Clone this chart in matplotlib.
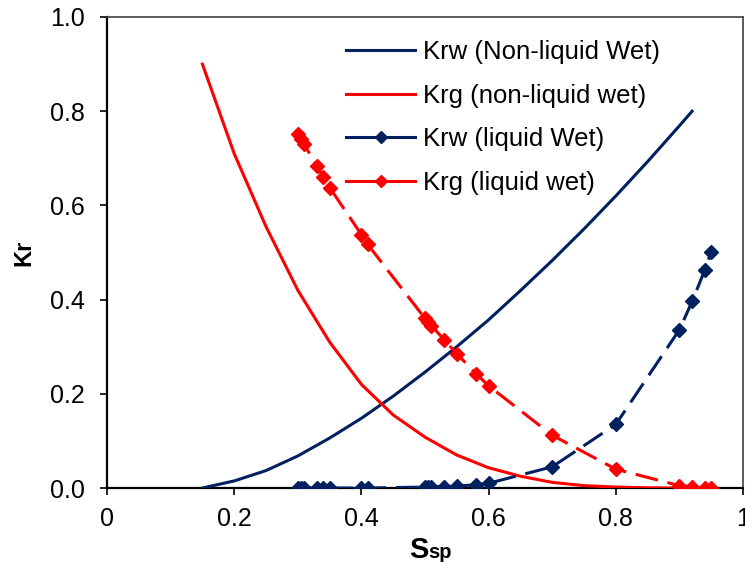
import matplotlib
matplotlib.use("Agg")
import matplotlib.pyplot as plt
from matplotlib.lines import Line2D

plt.rcParams["font.family"] = ["Liberation Sans", "DejaVu Sans"]

NAVY = "#002060"
RED = "#FF0000"

# Non-liquid wet curves
s_nl = [0.15, 0.20, 0.25, 0.30, 0.35, 0.40, 0.45, 0.50, 0.55, 0.60, 0.65,
        0.70, 0.75, 0.80, 0.85, 0.90, 0.92]
krw_nl = [0.0, 0.015, 0.037, 0.068, 0.106, 0.148, 0.195, 0.246, 0.300, 0.357,
          0.419, 0.483, 0.550, 0.620, 0.693, 0.769, 0.800]
s_nlg = [0.15, 0.20, 0.25, 0.30, 0.35, 0.40, 0.45, 0.50, 0.55, 0.60, 0.65,
         0.70, 0.75, 0.80, 0.85, 0.90, 0.95]
krg_nl = [0.90, 0.71, 0.555, 0.42, 0.31, 0.22, 0.155, 0.108, 0.07, 0.043,
          0.025, 0.012, 0.005, 0.002, 0.0005, 0.0, 0.0]

# Liquid wet curves
s_lw = [0.30, 0.305, 0.31, 0.33, 0.34, 0.35, 0.40, 0.41, 0.50, 0.505, 0.51,
        0.53, 0.55, 0.58, 0.60, 0.70, 0.80, 0.90, 0.92, 0.94, 0.95]
krw_lw = [0.0, 0.0, 0.0, 0.0, 0.0, 0.0, 0.0, 0.0, 0.002, 0.002, 0.003,
          0.003, 0.004, 0.007, 0.010, 0.045, 0.135, 0.336, 0.396, 0.463, 0.502]
krg_lw = [0.752, 0.740, 0.730, 0.683, 0.660, 0.638, 0.538, 0.517, 0.360,
          0.352, 0.345, 0.315, 0.285, 0.243, 0.217, 0.112, 0.040, 0.005,
          0.003, 0.001, 0.0]

labels = ["Krw (Non-liquid Wet)", "Krg (non-liquid wet)",
          "Krw (liquid Wet)", "Krg (liquid wet)"]
x_ticks = [0, 0.2, 0.4, 0.6, 0.8, 1.0]
x_ticklabels = ["0", "0.2", "0.4", "0.6", "0.8", "1"]
y_ticks = [0.0, 0.2, 0.4, 0.6, 0.8, 1.0]
y_ticklabels = ["0.0", "0.2", "0.4", "0.6", "0.8", "1.0"]

W, H = 745, 573
fig = plt.figure(figsize=(W / 100, H / 100), dpi=100)
ax = fig.add_axes([107 / W, 1 - 488 / H, (743 - 107) / W, (488 - 17) / H])

lw = 2.2
ms = 7.5
ax.plot(s_nl, krw_nl, color=NAVY, lw=lw, zorder=3)
ax.plot(s_nlg, krg_nl, color=RED, lw=lw, zorder=3)
ax.plot(s_lw, krw_lw, color=NAVY, lw=lw, dashes=(7.5, 3.2), marker="D",
        markersize=ms, zorder=4)
ax.plot(s_lw, krg_lw, color=RED, lw=lw, dashes=(7.5, 3.2), marker="D",
        markersize=ms, zorder=4)

ax.set_xlim(0, 1.0)
ax.set_ylim(0, 1.0)
ax.set_xticks(x_ticks)
ax.set_xticklabels(x_ticklabels)
ax.set_yticks(y_ticks)
ax.set_yticklabels(y_ticklabels)
ax.tick_params(direction="out", length=5, width=1.2, labelsize=18,
               colors="black")
ax.tick_params(axis="x", pad=9)
ax.tick_params(axis="y", pad=11)

for side in ["left", "bottom"]:
    ax.spines[side].set_color("black")
    ax.spines[side].set_linewidth(1.6)
for side in ["top", "right"]:
    ax.spines[side].set_color("#404040")
    ax.spines[side].set_linewidth(1.2)

ax.set_ylabel("Kr", fontsize=17, fontweight="bold")
ax.yaxis.set_label_coords(-0.112, 0.499)

# x label: large "S" followed by smaller "sp" on the same baseline
ax.set_xlabel("S", fontsize=21, fontweight="bold")
ax.xaxis.set_label_coords(0.505, -0.1486)
ax.xaxis.label.set_horizontalalignment("right")
ax.xaxis.label.set_verticalalignment("baseline")
ax.text(0.505, -0.1486, "sp", transform=ax.transAxes, fontsize=14.5,
        fontweight="bold", ha="left", va="baseline", clip_on=False)

handles = [
    Line2D([], [], color=NAVY, lw=lw),
    Line2D([], [], color=RED, lw=lw),
    Line2D([], [], color=NAVY, lw=lw, marker="D", markersize=ms - 1),
    Line2D([], [], color=RED, lw=lw, marker="D", markersize=ms - 1),
]
ax.legend(handles, labels, loc="upper left",
          bbox_to_anchor=((346 - 107) / 636, (488 - 40) / 471),
          frameon=False, fontsize=18.5, handlelength=2.7, handletextpad=0.3,
          labelspacing=0.76, borderaxespad=0, borderpad=0, numpoints=1)

fig.savefig("out.png", dpi=100)
